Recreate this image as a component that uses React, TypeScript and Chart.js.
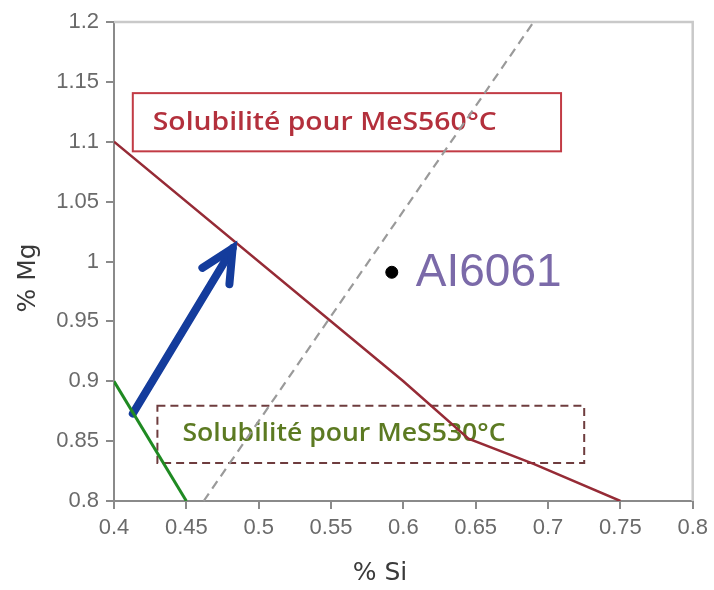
import React, { useEffect, useRef } from 'react';
import { Chart, registerables } from 'chart.js';

Chart.register(...registerables);

// Axis ranges and ticks
const X_MIN = 0.4;
const X_MAX = 0.8;
const Y_MIN = 0.8;
const Y_MAX = 1.2;
const TICK_STEP = 0.05;

// Solubility curve at 560°C (red)
const red560X = [0.4, 0.6, 0.645, 0.69, 0.75];
const red560Y = [1.1, 0.9, 0.852, 0.831, 0.8];

// Solubility curve at 530°C (green)
const green530X = [0.4, 0.45];
const green530Y = [0.9, 0.8];

// Gray dashed stoichiometric line
const dashX = [0.462, 0.69];
const dashY = [0.8, 1.2];

// Blue arrow
const arrowX = [0.413, 0.482];
const arrowY = [0.873, 1.011];

// Alloy point
const alloyX = [0.592];
const alloyY = [0.991];
const alloyLabel = 'AI6061';

// Text boxes (data coordinates: x1, x2, yTop, yBottom)
const box560 = [0.413, 0.709, 1.1406, 1.092];
const box560Label = 'Solubilité pour MeS560°C';
const box530 = [0.43, 0.725, 0.8795, 0.8318];
const box530Label = 'Solubilité pour MeS530°C';

const xTitle = '% Si';
const yTitle = '% Mg';

const fmt = (v: number) => String(Number(v.toFixed(2)));

const overlayPlugin = {
  id: 'overlay',
  beforeDatasetsDraw(chart: any) {
    const { ctx, scales, chartArea } = chart;
    const xs = scales.x;
    const ys = scales.y;
    ctx.save();
    // top/right frame
    ctx.strokeStyle = '#c9c9c9';
    ctx.lineWidth = 2.5;
    ctx.beginPath();
    ctx.moveTo(chartArea.left, chartArea.top);
    ctx.lineTo(chartArea.right, chartArea.top);
    ctx.lineTo(chartArea.right, chartArea.bottom);
    ctx.stroke();

    // red box
    {
      const x1 = xs.getPixelForValue(box560[0]);
      const x2 = xs.getPixelForValue(box560[1]);
      const y1 = ys.getPixelForValue(box560[2]);
      const y2 = ys.getPixelForValue(box560[3]);
      ctx.fillStyle = '#ffffff';
      ctx.fillRect(x1, y1, x2 - x1, y2 - y1);
      ctx.strokeStyle = '#c23b45';
      ctx.lineWidth = 2;
      ctx.setLineDash([]);
      ctx.strokeRect(x1, y1, x2 - x1, y2 - y1);
      ctx.fillStyle = '#b3303c';
      ctx.font = '600 19px "Open Sans"';
      ctx.textBaseline = 'middle';
      ctx.textAlign = 'left';
      ctx.save();
      ctx.translate(x1 + 20, (y1 + y2) / 2 + 1);
      ctx.scale(1.49, 1.33);
      ctx.fillText(box560Label, 0, 0);
      ctx.restore();
    }
    // dashed box
    {
      const x1 = xs.getPixelForValue(box530[0]);
      const x2 = xs.getPixelForValue(box530[1]);
      const y1 = ys.getPixelForValue(box530[2]);
      const y2 = ys.getPixelForValue(box530[3]);
      ctx.fillStyle = '#ffffff';
      ctx.fillRect(x1, y1, x2 - x1, y2 - y1);
      ctx.strokeStyle = '#6e3c3e';
      ctx.lineWidth = 2;
      ctx.setLineDash([8, 5]);
      ctx.strokeRect(x1, y1, x2 - x1, y2 - y1);
      ctx.setLineDash([]);
      ctx.fillStyle = '#5c7a22';
      ctx.font = '600 19px "Open Sans"';
      ctx.textBaseline = 'middle';
      ctx.textAlign = 'left';
      ctx.save();
      ctx.translate(x1 + 25, (y1 + y2) / 2);
      ctx.scale(1.4, 1.3);
      ctx.fillText(box530Label, 0, 0);
      ctx.restore();
    }
    ctx.restore();
  },
  afterDatasetsDraw(chart: any) {
    const { ctx, scales, chartArea } = chart;
    const xs = scales.x;
    const ys = scales.y;
    ctx.save();
    // arrow head
    const sx = xs.getPixelForValue(arrowX[0]);
    const sy = ys.getPixelForValue(arrowY[0]);
    const tx = xs.getPixelForValue(arrowX[1]);
    const ty = ys.getPixelForValue(arrowY[1]);
    const ang = Math.atan2(ty - sy, tx - sx);
    const len = 36;
    const spread = (26 * Math.PI) / 180;
    ctx.strokeStyle = '#143c9c';
    ctx.lineWidth = 8;
    ctx.lineCap = 'round';
    ctx.lineJoin = 'miter';
    ctx.beginPath();
    ctx.moveTo(tx - len * Math.cos(ang - spread), ty - len * Math.sin(ang - spread));
    ctx.lineTo(tx, ty);
    ctx.lineTo(tx - len * Math.cos(ang + spread), ty - len * Math.sin(ang + spread));
    ctx.stroke();

    // alloy label
    const ax = xs.getPixelForValue(alloyX[0]);
    const ay = ys.getPixelForValue(alloyY[0]);
    ctx.fillStyle = '#7b6aa9';
    ctx.font = '46px "Liberation Sans"';
    ctx.textAlign = 'left';
    ctx.textBaseline = 'middle';
    ctx.fillText(alloyLabel, ax + 24, ay + 1);

    // axis titles
    ctx.fillStyle = '#3a3a3a';
    ctx.font = '25px "DejaVu Sans"';
    ctx.textAlign = 'center';
    ctx.textBaseline = 'middle';
    ctx.fillText(xTitle, chartArea.left + 266, chartArea.bottom + 72);
    ctx.translate(28, chartArea.top + 256);
    ctx.rotate(-Math.PI / 2);
    ctx.fillText(yTitle, 0, 0);
    ctx.restore();
  },
};

export default function App() {
  const ref = useRef<HTMLCanvasElement | null>(null);
  useEffect(() => {
    if (!ref.current) return;
    const toPts = (xs: number[], ys: number[]) => xs.map((x, i) => ({ x, y: ys[i] }));
    const chart = new Chart(ref.current, {
      type: 'scatter',
      data: {
        datasets: [
          {
            label: 'MeS560',
            data: toPts(red560X, red560Y),
            showLine: true,
            borderColor: '#962b36',
            borderWidth: 2.5,
            pointRadius: 0,
            tension: 0,
          },
          {
            label: 'MeS530',
            data: toPts(green530X, green530Y),
            showLine: true,
            borderColor: '#1f8a22',
            borderWidth: 3,
            pointRadius: 0,
          },
          {
            label: 'stoechiometrie',
            data: toPts(dashX, dashY),
            showLine: true,
            borderColor: '#9a9a9a',
            borderWidth: 2.2,
            borderDash: [9, 6],
            pointRadius: 0,
            clip: false as any,
          },
          {
            label: 'fleche',
            data: toPts(arrowX, arrowY),
            showLine: true,
            borderColor: '#143c9c',
            borderWidth: 8,
            borderCapStyle: 'round',
            pointRadius: 0,
          },
          {
            label: alloyLabel,
            data: toPts(alloyX, alloyY),
            showLine: false,
            backgroundColor: '#000000',
            borderColor: '#000000',
            pointRadius: 6,
          },
        ],
      },
      options: {
        animation: false,
        responsive: false,
        layout: { padding: { left: 0, right: 19, top: 22, bottom: 0 } },
        plugins: { legend: { display: false }, tooltip: { enabled: false } },
        scales: {
          x: {
            type: 'linear',
            min: X_MIN,
            max: X_MAX,
            afterFit: (s: any) => {
              s.height = 89;
            },
            ticks: {
              stepSize: TICK_STEP,
              color: '#6a6a6a',
              font: { family: 'Liberation Sans', size: 22 },
              padding: 6,
              callback: (v: any) => fmt(Number(v)),
            },
            grid: {
              drawOnChartArea: false,
              drawTicks: true,
              tickLength: 8,
              color: '#8a8a8a',
              lineWidth: 2,
            },
            border: { display: true, color: '#8a8a8a', width: 2 },
          },
          y: {
            type: 'linear',
            min: Y_MIN,
            max: Y_MAX,
            afterFit: (s: any) => {
              s.width = 114;
            },
            ticks: {
              stepSize: TICK_STEP,
              color: '#6a6a6a',
              font: { family: 'Liberation Sans', size: 22 },
              padding: 7,
              callback: (v: any) => fmt(Number(v)),
            },
            grid: {
              drawOnChartArea: false,
              drawTicks: true,
              tickLength: 8,
              color: '#8a8a8a',
              lineWidth: 2,
            },
            border: { display: true, color: '#8a8a8a', width: 2 },
          },
        },
      },
      plugins: [overlayPlugin],
    });
    return () => chart.destroy();
  }, []);
  return (
    <div style={{ position: 'absolute', left: 0, top: 0, width: 714, height: 590, background: '#fff' }}>
      <canvas ref={ref} width={714} height={590} />
    </div>
  );
}
